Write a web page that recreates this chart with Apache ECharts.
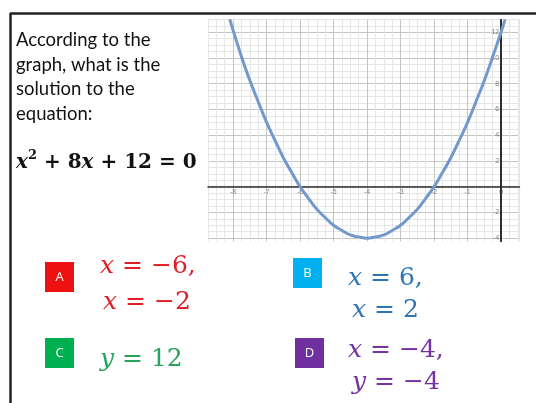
<!DOCTYPE html>
<html>
<head>
<meta charset="utf-8">
<script src="https://cdn.jsdelivr.net/npm/echarts@6/dist/echarts.min.js"></script>
<style>
  html, body { margin: 0; padding: 0; background: #fff; }
  #main { width: 536px; height: 403px; }
</style>
</head>
<body>
<div id="main"></div>
<script>
// points
const curveX = [-8.1, -7.75, -7.5, -7.25, -7, -6.75, -6.5, -6.25, -6, -5.75, -5.5, -5.25, -5, -4.75, -4.5, -4.25, -4,
  -3.75, -3.5, -3.25, -3, -2.75, -2.5, -2.25, -2, -1.75, -1.5, -1.25, -1, -0.75, -0.5, -0.25, 0, 0.12];
const curveY = [13, 10.1, 8.25, 6.6, 5, 3.6, 2.25, 1.1, 0, -0.9, -1.75, -2.4, -3, -3.4, -3.75, -3.9, -4,
  -3.9, -3.75, -3.4, -3, -2.4, -1.75, -0.9, 0, 1.1, 2.25, 3.6, 5, 6.6, 8.25, 10.1, 12, 13];

// tick labels shown on the axes (they sit on the axis lines, not at the edge)
const xTickLabels = [-8, -7, -6, -5, -4, -3, -2, -1, 0];
const yTickLabels = [-4, -2, 2, 4, 6, 8, 10, 12];

// question text and answer choices
const questionLines = ['According to the', 'graph, what is the', 'solution to the', 'equation:'];
const choiceLetters = ['A', 'B', 'C', 'D'];
const choiceLines = [
  [['x', ' = −6,'], ['x', ' = −2']],
  [['x', ' = 6,'], ['x', ' = 2']],
  [['y', ' = 12']],
  [['x', ' = −4,'], ['y', ' = −4']]
];

const boxColors = ['#ee1111', '#00b0f0', '#00b050', '#7030a0'];
const textColors = ['#e01e25', '#2e75b6', '#27a35a', '#7432a2'];
const boxPos = [[45, 262], [293, 258], [45, 338], [295, 338]];
const linePos = [
  [[100, 266], [103, 302]],
  [[348, 278], [352, 310]],
  [[100, 359]],
  [[348, 350], [352, 382]]
];

const chart = echarts.init(document.getElementById('main'), null, { renderer: 'canvas' });

const minor = '#e6e6e6', major = '#c4c4c4', none = 'rgba(0,0,0,0)';
const axisColor = '#2e2e2e';

const graphics = [];
// slide frame
graphics.push({ type: 'line', shape: { x1: 10, y1: 13.5, x2: 536, y2: 13.5 }, style: { stroke: '#222', lineWidth: 2.5 }, z: 10 });
graphics.push({ type: 'line', shape: { x1: 10.5, y1: 13, x2: 10.5, y2: 403 }, style: { stroke: '#222', lineWidth: 2.5 }, z: 10 });

graphics.push({
  type: 'text', left: 16, top: 28,
  style: { text: questionLines.join('\n'), font: '18.5px Lato', fill: '#111', lineHeight: 24.6 }
});
graphics.push({
  type: 'text', x: 16, y: 163,
  style: {
    text: '{v|x}{s|2}{n| + 8}{v|x}{n| + 12 = 0}',
    verticalAlign: 'middle',
    rich: {
      v: { fontFamily: 'DejaVu Serif', fontStyle: 'italic', fontWeight: 'bold', fontSize: 20, lineHeight: 28, fill: '#111' },
      n: { fontFamily: 'DejaVu Serif', fontWeight: 'bold', fontSize: 20, lineHeight: 28, fill: '#111' },
      s: { fontFamily: 'DejaVu Serif', fontWeight: 'bold', fontSize: 13, lineHeight: 28, verticalAlign: 'top', fill: '#111' }
    }
  }
});

choiceLetters.forEach(function (letter, i) {
  graphics.push({
    type: 'rect', shape: { x: boxPos[i][0], y: boxPos[i][1], width: 29, height: 30 },
    style: { fill: boxColors[i] }
  });
  graphics.push({
    type: 'text', x: boxPos[i][0] + 14.5, y: boxPos[i][1] + 15,
    style: { text: letter, font: '13px "Open Sans"', fill: '#fff', align: 'center', verticalAlign: 'middle' }
  });
  choiceLines[i].forEach(function (ln, j) {
    graphics.push({
      type: 'text', x: linePos[i][j][0], y: linePos[i][j][1],
      style: {
        text: '{v|' + ln[0] + '}{n|' + ln[1] + '}',
        verticalAlign: 'middle',
        rich: {
          v: { fontFamily: 'DejaVu Serif', fontStyle: 'italic', fontSize: 25, fill: textColors[i] },
          n: { fontFamily: 'DejaVu Serif', fontSize: 25, fill: textColors[i] }
        }
      }
    });
  });
});

const tickLabelStyle = { show: true, color: '#666', fontSize: 7, distance: 2 };

const option = {
  animation: false,
  backgroundColor: '#fff',
  grid: { left: 208, right: 16.5, top: 19.4, bottom: 161.6, containLabel: false },
  xAxis: {
    type: 'value', min: -8.75, max: 0.55, interval: 0.25,
    axisLine: { show: true, onZero: true, lineStyle: { color: axisColor, width: 1.5 } },
    axisTick: { show: false },
    axisLabel: { show: false },
    splitLine: { show: true, showMinLine: true, showMaxLine: true, lineStyle: { color: [minor, minor, minor, major], width: 1 } }
  },
  yAxis: {
    type: 'value', min: -4.25, max: 13, interval: 0.25,
    axisLine: { show: true, onZero: true, lineStyle: { color: axisColor, width: 1.5 } },
    axisTick: { show: false },
    axisLabel: { show: false },
    splitLine: { show: true, showMinLine: true, showMaxLine: true, lineStyle: { color: [none, major, none, minor, none, minor, none, minor], width: 1 } }
  },
  series: [{
    type: 'line',
    data: curveX.map(function (x, i) { return [x, curveY[i]]; }),
    smooth: true,
    showSymbol: false,
    lineStyle: { color: '#7399cb', width: 3 },
    z: 5,
    // vertical axis line through x = 0
    markLine: {
      silent: true,
      symbol: 'none',
      label: { show: false },
      lineStyle: { color: axisColor, width: 2, type: 'solid' },
      data: [{ name: 'yaxis', xAxis: 0 }]
    }
  }, {
    type: 'scatter',
    data: xTickLabels.map(function (v) { return [v, 0]; }),
    symbolSize: 0,
    silent: true,
    label: Object.assign({ position: 'bottom', formatter: function (p) { return String(p.value[0]); } }, tickLabelStyle)
  }, {
    type: 'scatter',
    data: yTickLabels.map(function (v) { return [0, v]; }),
    symbolSize: 0,
    silent: true,
    label: Object.assign({ position: 'left', formatter: function (p) { return String(p.value[1]); } }, tickLabelStyle)
  }],
  graphic: graphics
};
chart.setOption(option);
</script>
</body>
</html>
